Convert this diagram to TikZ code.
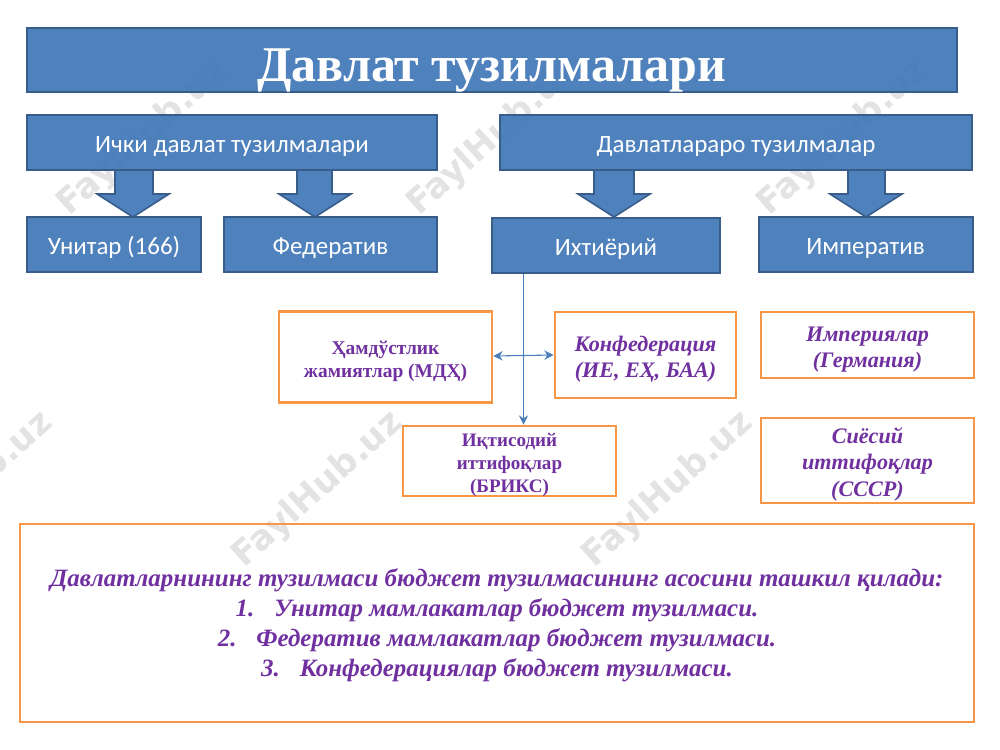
\documentclass[tikz,border=0pt]{standalone}
\usepackage{fontspec}
\setmainfont{Liberation Serif}
\newfontfamily\carl{Carlito}
\newfontfamily\wmfont{DejaVu Sans}
\definecolor{bluefill}{HTML}{4278B8}
\definecolor{blueedge}{HTML}{385D8A}
\definecolor{orangeedge}{HTML}{F79646}
\definecolor{purp}{HTML}{7030A0}
\definecolor{linkblue}{HTML}{4A7EBB}
\usetikzlibrary{arrows.meta}
\tikzset{
 x=0.75pt,y=-0.75pt,
 bluebox/.style={fill=bluefill,fill opacity=0.93,text opacity=1,draw=blueedge,line width=1.5pt,text=white,inner sep=0pt,font=\carl\fontsize{18.7}{22}\selectfont},
 orangebox/.style={draw=orangeedge,line width=2pt,text=purp,inner sep=0pt},
 blockarrow/.style={fill=bluefill,fill opacity=0.93,draw=blueedge,line width=1.2pt,line join=miter},
 linkline/.style={draw=linkblue,line width=0.8pt,-{Stealth[length=7pt,width=7pt]}},
 linkboth/.style={draw=linkblue,line width=0.8pt,{Stealth[length=7pt,width=7pt]}-{Stealth[length=7pt,width=7pt]}},
 wm/.style={rotate=42,text=black!55,opacity=0.2,font=\wmfont\bfseries\fontsize{26}{26}\selectfont},
}
\newcommand{\lowered}[2]{\raisebox{-#1}[\height][\depth]{\begin{tabular}{@{}c@{}}#2\end{tabular}}}
\newcommand{\blockdown}[4]{% left shaft, right shaft, top, tip-x
 \draw[blockarrow] (#1,#3) -- (#2,#3) -- (#2,194) -- ({#4+36},194) -- (#4,217) -- ({#4-36},194) -- (#1,194) -- cycle;}
\begin{document}
\begin{tikzpicture}
\useasboundingbox (0,0) rectangle (1000,750);
\fill[white] (0,0) rectangle (1000,750);
% watermarks
\node[wm] (w1) at (143,138) {FaylHub.uz};
\node[wm] (w2) at (493,138) {FaylHub.uz};
\node[wm] (w3) at (843,138) {FaylHub.uz};
\node[wm] (w4) at (-32,490) {FaylHub.uz};
\node[wm] (w5) at (318,490) {FaylHub.uz};
\node[wm] (w6) at (668,490) {FaylHub.uz};
% block arrows
\blockdown{115}{153}{170}{133}
\blockdown{297}{332}{170}{315}
\blockdown{594}{634}{170}{614}
\blockdown{848}{885}{170}{866}
% blue boxes
\node[bluebox,minimum width=697.5pt,minimum height=48pt,font=\bfseries\fontsize{37.5}{40}\selectfont] (title) at (492,60) {\lowered{8pt}{Давлат тузилмалари}};
\node[bluebox,minimum width=307.5pt,minimum height=41.25pt] (ichki) at (232,142.5) {\lowered{3pt}{Ички давлат тузилмалари}};
\node[bluebox,minimum width=354pt,minimum height=41.25pt] (aro) at (736,142.5) {\lowered{3pt}{Давлатлараро тузилмалар}};
\node[bluebox,minimum width=130.5pt,minimum height=41.25pt] (unitar) at (114,244.5) {\lowered{3pt}{Унитар (166)}};
\node[bluebox,minimum width=160pt,minimum height=41.25pt] (fed) at (330.5,244.5) {\lowered{3pt}{Федератив}};
\node[bluebox,minimum width=171pt,minimum height=41.25pt] (ixt) at (606,245.5) {\lowered{3pt}{Ихтиёрий}};
\node[bluebox,minimum width=160.5pt,minimum height=41.25pt] (imp) at (865.5,244.5) {\lowered{3pt}{Императив}};
% orange boxes
\node[orangebox,minimum width=159.75pt,minimum height=68.25pt,font=\bfseries\fontsize{14.6}{17.5}\selectfont] (hamd) at (385.5,357) {\lowered{3pt}{Ҳамдўстлик\\жамиятлар (МДҲ)}};
\node[orangebox,minimum width=135.75pt,minimum height=64.5pt,font=\bfseries\itshape\fontsize{16.6}{19.5}\selectfont] (konf) at (645.5,355) {\lowered{3pt}{Конфедерация\\(ИЕ, ЕҲ, БАА)}};
\node[orangebox,minimum width=159.75pt,minimum height=49.5pt,font=\bfseries\itshape\fontsize{16.6}{20}\selectfont] (impr) at (867.5,345) {\lowered{3pt}{Империялар\\(Германия)}};
\node[orangebox,minimum width=159.75pt,minimum height=63.75pt,font=\bfseries\itshape\fontsize{16.6}{20}\selectfont] (siyo) at (867.5,460.5) {\lowered{3pt}{Сиёсий\\иттифоқлар\\(СССР)}};
\node[orangebox,minimum width=159.75pt,minimum height=52.5pt,font=\bfseries\fontsize{14.3}{17.25}\selectfont] (iqt) at (509.5,461) {\lowered{3pt}{Иқтисодий\\иттифоқлар\\(БРИКС)}};
\node[orangebox,minimum width=715.5pt,minimum height=148.5pt,font=\bfseries\itshape\fontsize{18.7}{22.5}\selectfont] (big) at (497,623) {\lowered{1.5pt}{Давлатларнининг тузилмаси бюджет тузилмасининг асосини ташкил қилади:\\1.\hspace{0.8em}Унитар мамлакатлар бюджет тузилмаси.\\2.\hspace{0.8em}Федератив мамлакатлар бюджет тузилмаси.\\3.\hspace{0.8em}Конфедерациялар бюджет тузилмаси.}};
% connectors
\coordinate (vtop) at (ixt.south -| 523.5,0);
\coordinate (vbot) at (iqt.north -| 523.5,0);
\draw[linkline] (vtop) -- (vbot);
\draw[linkboth] (hamd.east |- 0,356) -- (konf.west |- 0,355);
\end{tikzpicture}
\end{document}
